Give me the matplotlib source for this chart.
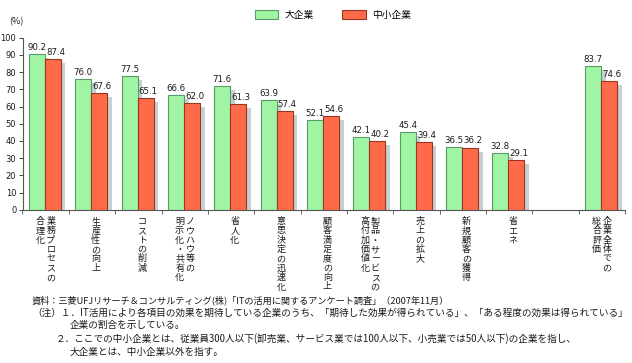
import matplotlib
matplotlib.use("Agg")
import matplotlib.pyplot as plt
from matplotlib.patches import Patch

plt.rcParams['font.family'] = ['Noto Sans CJK JP', 'DejaVu Sans']

# ---- data ----
categories = [
    "業務プロセスの\n合理化",
    "生産性の向上",
    "コストの削減",
    "ノウハウ等の\n明示化・共有化",
    "省人化",
    "意思決定の迅速化",
    "顧客満足度の向上",
    "製品・サービスの\n高付加価値化",
    "売上の拡大",
    "新規顧客の獲得",
    "省エネ",
    "企業全体での\n総合評価",
]
large_values = [90.2, 76.0, 77.5, 66.6, 71.6, 63.9, 52.1, 42.1, 45.4, 36.5, 32.8, 83.7]
small_values = [87.4, 67.6, 65.1, 62.0, 61.3, 57.4, 54.6, 40.2, 39.4, 36.2, 29.1, 74.6]
series_names = ["大企業", "中小企業"]
y_ticks = [0, 10, 20, 30, 40, 50, 60, 70, 80, 90, 100]
source_text = "資料：三菱UFJリサーチ＆コンサルティング(株)「ITの活用に関するアンケート調査」（2007年11月）"
note1a = "（注）１．IT活用により各項目の効果を期待している企業のうち、「期待した効果が得られている」、「ある程度の効果は得られている」"
note1b = "企業の割合を示している。"
note2a = "２．ここでの中小企業とは、従業員300人以下(卸売業、サービス業では100人以下、小売業では50人以下)の企業を指し、"
note2b = "大企業とは、中小企業以外を指す。"

# slot positions: 11 categories, one empty slot, then overall
positions = list(range(11)) + [12]

green = "#A0F5A4"
green_edge = "#5A9A68"
red = "#FF6A48"
red_edge = "#9A3424"
shadow = "#C8D0D1"
txt = "#1a1a1a"

W, H = 632, 363
fig = plt.figure(figsize=(W / 100, H / 100), dpi=100)
ax = fig.add_axes([22.5 / W, 1 - 210 / H, (625 - 22.5) / W, (210 - 37.5) / H])

bw = 0.345
gx = [p - 0.19 for p in positions]
rx = [p + 0.155 for p in positions]
sh_dx = 0.1
sh_dy = 2.3

ax.bar([x + sh_dx for x in gx], [v - sh_dy for v in large_values], width=bw,
       color=shadow, zorder=1, linewidth=0)
ax.bar([x + sh_dx for x in rx], [v - sh_dy for v in small_values], width=bw,
       color=shadow, zorder=1, linewidth=0)
ax.bar(gx, large_values, width=bw, color=green, edgecolor=green_edge,
       linewidth=0.8, zorder=2)
ax.bar(rx, small_values, width=bw, color=red, edgecolor=red_edge,
       linewidth=0.8, zorder=3)

numfont = ['DejaVu Sans']
for x, v in zip(gx, large_values):
    ax.text(x, v + 1.2, f"{v:.1f}", ha='center', va='bottom', fontsize=6.2,
            color=txt, family=numfont)
for x, v in zip(rx, small_values):
    ax.text(x + 0.06, v + 1.2, f"{v:.1f}", ha='center', va='bottom', fontsize=6.2,
            color=txt, family=numfont)

ax.set_xlim(-0.5, 12.5)
ax.set_ylim(0, 100)
ax.set_yticks(y_ticks)
ax.set_yticklabels([str(t) for t in y_ticks], fontsize=6.0, color=txt,
                   family=numfont)
ax.tick_params(axis='y', length=3, width=0.7, pad=1.5, colors='#444444',
               labelcolor=txt)
ax.set_xticks([])
ax.set_xticks([i + 0.5 for i in range(-1, 13)], minor=True)
ax.tick_params(axis='x', which='minor', length=3, width=0.7, colors='#666666')
for s in ['top', 'right']:
    ax.spines[s].set_visible(False)
ax.spines['left'].set_color('#555555')
ax.spines['bottom'].set_color('#555555')
ax.spines['left'].set_linewidth(0.8)
ax.spines['bottom'].set_linewidth(0.8)

# vertical category labels (columns right-to-left)
trans = ax.get_xaxis_transform()
for p, lab in zip(positions, categories):
    cols = lab.split("\n")
    if len(cols) == 1:
        xs = [p + 0.08]
    else:
        xs = [p + 0.11, p - 0.11]
    for cx, col in zip(xs, cols):
        ax.text(cx, -0.04, "\n".join(col), transform=trans, ha='center', va='top',
                fontsize=6.5, linespacing=1.05, color=txt)

fig.text(9 / W, 1 - 22 / H, "(%)", fontsize=6.5, ha='left', va='center', color=txt)

handles = [Patch(facecolor=green, edgecolor=green_edge, linewidth=0.8),
           Patch(facecolor=red, edgecolor=red_edge, linewidth=0.8)]
fig.legend(handles, series_names, ncol=2, loc='center',
           bbox_to_anchor=(333 / W, 1 - 15 / H), frameon=False, fontsize=7,
           handlelength=2.4, handleheight=1.0, handletextpad=0.7,
           columnspacing=2.9, borderpad=0)

fs = 6.6
fs2 = 6.95
fig.text(32 / W, 1 - 300 / H, source_text, fontsize=fs, va='center', color=txt)
fig.text(32 / W, 1 - 312.5 / H, note1a, fontsize=fs2, va='center', color=txt)
fig.text(70 / W, 1 - 325 / H, note1b, fontsize=fs2, va='center', color=txt)
fig.text(56 / W, 1 - 339 / H, note2a, fontsize=fs2, va='center', color=txt)
fig.text(70 / W, 1 - 352 / H, note2b, fontsize=fs2, va='center', color=txt)

fig.savefig("out.png", dpi=100)
